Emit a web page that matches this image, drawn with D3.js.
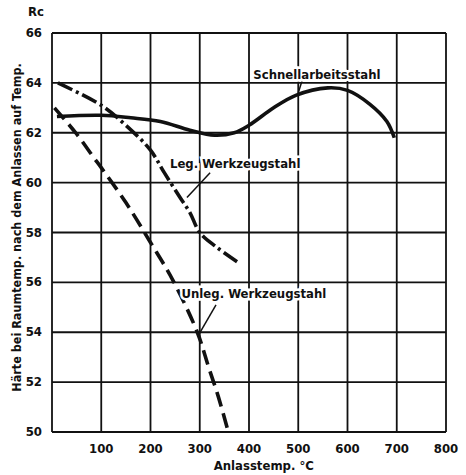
<!DOCTYPE html>
<html>
<head>
<meta charset="utf-8">
<script src="https://cdn.jsdelivr.net/npm/d3@7"></script>
<style>
  body { margin: 0; background: #fff; }
  text { font-family: "DejaVu Sans Condensed", "Liberation Sans Narrow", sans-serif; font-weight: bold; fill: #111; }
  .grid line { stroke: #111; stroke-width: 1.8; }
  .curve { fill: none; stroke: #111; stroke-width: 3.6; stroke-linecap: butt; }
</style>
</head>
<body>
<div id="vis-container"></div>
<script>
// tick values
var xTicks = [100, 200, 300, 400, 500, 600, 700, 800];
var yTicks = [50, 52, 54, 56, 58, 60, 62, 64, 66];

// curves: [Anlasstemp, Rc]
var schnell = [[10, 62.65], [100, 62.7], [160, 62.6], [220, 62.45], [280, 62.1], [330, 61.9], [370, 62.0], [400, 62.3], [450, 63.0], [495, 63.5], [560, 63.8], [600, 63.7], [645, 63.15], [680, 62.45], [695, 61.8]];
var legWerk = [[12, 64.0], [100, 63.1], [150, 62.3], [200, 61.3], [228, 60.4], [260, 59.4], [280, 58.8], [300, 58.0], [335, 57.4], [378, 56.8]];
var unlegWerk = [[5, 63.0], [50, 61.95], [85, 61.0], [100, 60.6], [150, 59.2], [200, 57.6], [245, 56.1], [295, 54.0], [318, 52.6], [338, 51.4], [358, 50.0]];

var container = d3.select("#vis-container");

var margins = { top: 33, right: 20, bottom: 43, left: 52 };
var width = 466;
var height = 475;
var visWidth = 394;
var visHeight = height - margins.top - margins.bottom;

var svg = container.append("svg")
    .attr("width", width)
    .attr("height", height);

var viewport = svg.append("g")
    .attr("transform", "translate(" + margins.left + "," + margins.top + ")");

var x = d3.scaleLinear().domain([0, 800]).range([0, visWidth]);
var y = d3.scaleLinear().domain([50, 66]).range([visHeight, 0]);

// grid (vertical lines incl. left border, horizontal lines incl. top/bottom)
var grid = viewport.append("g").attr("class", "grid");
grid.selectAll(".v").data([0].concat(xTicks)).enter().append("line")
    .attr("x1", d => x(d)).attr("x2", d => x(d))
    .attr("y1", 0).attr("y2", visHeight);
grid.selectAll(".h").data(yTicks).enter().append("line")
    .attr("x1", 0).attr("x2", visWidth)
    .attr("y1", d => y(d)).attr("y2", d => y(d));

// axis labels
var axisG = viewport.append("g");
axisG.selectAll(".xt").data(xTicks).enter().append("text")
    .attr("x", d => x(d))
    .attr("y", visHeight + 21)
    .attr("text-anchor", "middle")
    .style("font-size", "13px")
    .text(d => d);
axisG.selectAll(".yt").data(yTicks).enter().append("text")
    .attr("x", -10)
    .attr("y", d => y(d) + 4)
    .attr("text-anchor", "end")
    .style("font-size", "13px")
    .text(d => d);
axisG.append("text")
    .attr("x", -24).attr("y", -17)
    .style("font-size", "13px")
    .text("Rc");
axisG.append("text")
    .attr("x", x(430)).attr("y", visHeight + 38)
    .attr("text-anchor", "middle")
    .style("font-size", "13px")
    .text("Anlasstemp. °C");
axisG.append("text")
    .attr("transform", "translate(-31," + (y(58) - 5) + ") rotate(-90)")
    .attr("text-anchor", "middle")
    .style("font-size", "12.5px")
    .text("Härte bei Raumtemp. nach dem Anlassen auf Temp.");

// curves
var lineGen = d3.line()
    .x(d => x(d[0]))
    .y(d => y(d[1]))
    .curve(d3.curveCatmullRom);

var visualization = viewport.append("g");
visualization.append("path").attr("class", "curve").attr("d", lineGen(schnell));
visualization.append("path").attr("class", "curve").attr("d", lineGen(legWerk))
    .attr("stroke-dasharray", "16,4,3,4");
visualization.append("path").attr("class", "curve").attr("d", lineGen(unlegWerk))
    .attr("stroke-dasharray", "15,7");

// curve labels with leader lines
var labels = [
    { name: "Schnellarbeitsstahl", t: 538, v: 64.3, from: [508, 64.1], to: [500, 63.6] },
    { name: "Leg. Werkzeugstahl", t: 372, v: 60.75, from: [321, 60.4], to: [274, 59.4] },
    { name: "Unleg. Werkzeugstahl", t: 410, v: 55.55, from: [333, 55.1], to: [298, 53.9] }
];
var lab = visualization.selectAll(".lab").data(labels).enter().append("g");
lab.append("line")
    .attr("x1", d => x(d.from[0])).attr("y1", d => y(d.from[1]))
    .attr("x2", d => x(d.to[0])).attr("y2", d => y(d.to[1]))
    .attr("stroke", "#111").attr("stroke-width", 1.5);
lab.append("text")
    .attr("x", d => x(d.t)).attr("y", d => y(d.v) + 4)
    .attr("text-anchor", "middle")
    .style("font-size", "13px")
    .style("stroke", "#fff").style("stroke-width", 5).style("paint-order", "stroke")
    .text(d => d.name);
</script>
</body>
</html>
